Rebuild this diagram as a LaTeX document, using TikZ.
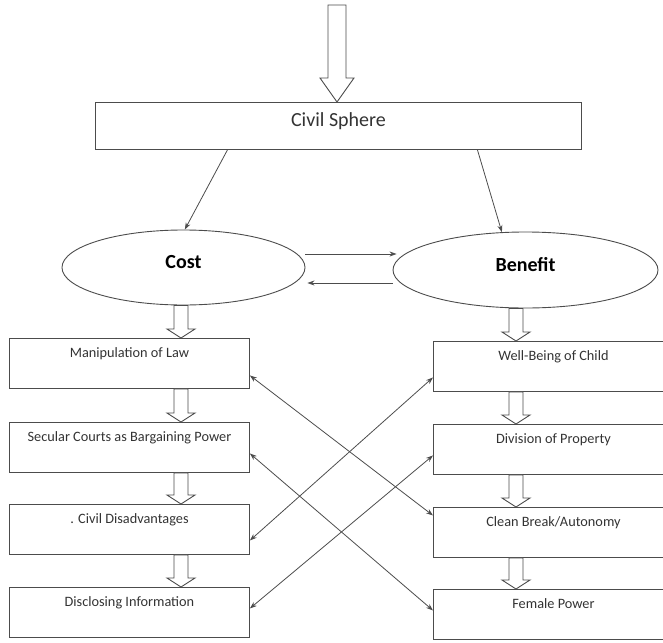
\documentclass[tikz,border=0pt]{standalone}
\usepackage{fontspec}
\setmainfont{Carlito}
\usetikzlibrary{shapes.geometric,arrows.meta,calc}
\definecolor{linegray}{gray}{0.3}
\definecolor{textgray}{gray}{0.2}
% hollow block arrow: start, tip, half shaft, half head, head length
\newcommand{\fatarrow}[5]{%
  \draw[fat] let \p1=#1, \p2=#2 in
    (\x1-#3pt,\y1) -- (\x1-#3pt,\y2+#5pt) -- (\x1-#4pt,\y2+#5pt) -- (\x1,\y2)
    -- (\x1+#4pt,\y2+#5pt) -- (\x1+#3pt,\y2+#5pt) -- (\x1+#3pt,\y1) -- cycle;}

\begin{document}
\begin{tikzpicture}[x=1pt, y=-1pt,
    box/.style={draw=linegray, line width=0.9pt, text=textgray, inner sep=0pt,
      minimum width=240pt, text height=19.5pt, text depth=30.5pt,
      font=\fontsize{14.3}{17}\selectfont, anchor=north west},
    oval/.style={ellipse, draw=linegray, line width=0.9pt, inner sep=0pt,
      text height=7pt, text depth=5pt, font=\fontsize{20}{24}\selectfont\bfseries},
    fat/.style={draw=linegray, line width=0.9pt, fill=white},
    link/.style={draw=linegray, line width=0.8pt, -{Stealth[length=7pt,width=5pt]}},
    twoway/.style={link, {Stealth[length=7pt,width=5pt]}-{Stealth[length=7pt,width=5pt]}}]
  \useasboundingbox (0,0) rectangle (663,642);
  \clip (0,0) rectangle (663,642);

  \node[box, minimum width=486pt, text height=24pt, text depth=23pt,
    font=\fontsize{20}{24}\selectfont] (sphere) at (95,102) {Civil Sphere};
  \node[oval, minimum width=243pt, minimum height=75pt] (cost) at (183.5,267.5) {Cost};
  \node[oval, minimum width=265pt, minimum height=76pt] (benefit) at (525.5,270) {Benefit};

  % cost side
  \node[box] (manip) at (9,338) {Manipulation of Law};
  \node[box] (secular) at (9,422) {Secular Courts as Bargaining Power};
  \node[box] (civdis) at (9,504) {. Civil Disadvantages};
  \node[box] (discl) at (9,587) {Disclosing Information};
  % benefit side
  \node[box] (child) at (433,341) {Well-Being of Child};
  \node[box] (property) at (433,424) {Division of Property};
  \node[box] (autonomy) at (433,507) {Clean Break/Autonomy};
  \node[box] (female) at (433,589) {Female Power};

  \draw[link] ([xshift=-111pt]sphere.south) -- (cost.88);
  \draw[link] ([xshift=139pt]sphere.south) -- (benefit.122);
  \draw[link] ([yshift=13.5pt]cost.east) -- ([yshift=16pt,xshift=4pt]benefit.west);
  \draw[link] ([yshift=-13pt]benefit.west) -- ([yshift=-15.5pt,xshift=2pt]cost.east);

  \draw[twoway] ([yshift=-12pt]manip.east) -- ([yshift=17pt]autonomy.west);
  \draw[twoway] ([yshift=-6pt]secular.east) -- ([yshift=4pt]female.west);
  \draw[twoway] ([yshift=-11pt]civdis.east) -- ([yshift=-11pt]child.west);
  \draw[twoway] ([yshift=4pt]discl.east) -- ([yshift=-6pt]property.west);

  \coordinate (in) at (337,5);
  \coordinate (lcol) at (181,0);
  \coordinate (rcol) at (516,0);
  \fatarrow{(in)}{(sphere.north -| in)}{9}{17}{24}
  \fatarrow{(cost.south -| lcol)}{(manip.north -| lcol)}{7}{14}{9}
  \fatarrow{(benefit.south -| rcol)}{(child.north -| rcol)}{7}{14}{9}
  \foreach \a/\b in {manip/secular, secular/civdis, civdis/discl}
    {\fatarrow{(\a.south -| lcol)}{(\b.north -| lcol)}{7}{14}{9}}
  \foreach \a/\b in {child/property, property/autonomy, autonomy/female}
    {\fatarrow{(\a.south -| rcol)}{(\b.north -| rcol)}{7}{14}{9}}
\end{tikzpicture}
\end{document}
